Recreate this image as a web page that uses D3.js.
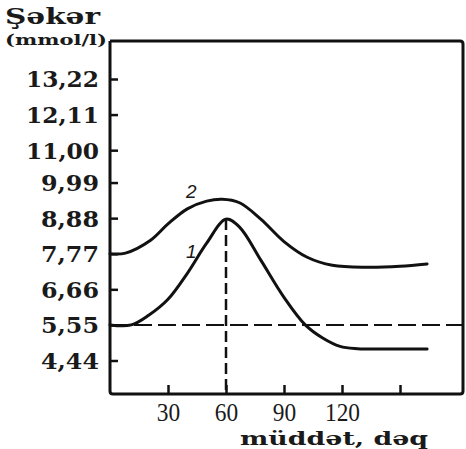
<!DOCTYPE html>
<html>
<head>
<meta charset="utf-8" />
<title>Şəkər</title>
<script src="https://cdn.jsdelivr.net/npm/d3@7"></script>
<style>
  body { margin: 0; background: #fff; }
  text { fill: #1a1a1a; }
</style>
</head>
<body>
<script>
// data
var yTicks = [4.44, 5.55, 6.66, 7.77, 8.88, 9.99, 11.00, 12.11, 13.22];
var yTickLabels = ['4,44', '5,55', '6,66', '7,77', '8,88', '9,99', '11,00', '12,11', '13,22'];
var xTicks = [30, 60, 90, 120, 150];
var xTickLabels = ['30', '60', '90', '120', ''];
var normLevel = 5.55;   // horizontal dashed line
var peakTime = 60;      // vertical dashed line
// curve 1
var curve1 = [[0,5.55],[11,5.55],[20,5.85],[30,6.35],[40,7.16],[50,8.10],[60,8.85],[67,8.6],[78,7.57],[90,6.41],[101,5.55],[110,5.14],[119,4.88],[128,4.81],[145,4.80],[164,4.80]];
// curve 2
var curve2 = [[0,7.77],[8,7.79],[21,8.19],[30,8.70],[40,9.17],[50,9.41],[58,9.47],[67,9.36],[78,8.85],[90,8.15],[102,7.66],[115,7.41],[133,7.35],[150,7.38],[164,7.45]];
var curveNames = ['1', '2'];
var curveLabelPos = [[42, 7.63], [42, 9.5]];

var width = 466, height = 449;
var frame = { left: 110, top: 41, right: 463, bottom: 394 };
var serif = '"DejaVu Serif", serif';

var svg = d3.select('body').append('svg').attr('width', width).attr('height', height);

var x = d3.scaleLinear().domain([0, 180]).range([110, 458]);
var y = d3.scaleLinear().domain([4.44, 13.22]).range([360.5, 79]);

// frame
svg.append('path')
  .attr('d', 'M' + frame.left + ',' + frame.top + 'L' + frame.left + ',' + (frame.bottom - 3) +
        'Q' + frame.left + ',' + frame.bottom + ' ' + (frame.left + 3) + ',' + frame.bottom +
        'L' + (frame.right - 3) + ',' + frame.bottom +
        'Q' + frame.right + ',' + frame.bottom + ' ' + frame.right + ',' + (frame.bottom - 3) +
        'L' + frame.right + ',' + (frame.top + 3) +
        'Q' + frame.right + ',' + frame.top + ' ' + (frame.right - 3) + ',' + frame.top +
        'L' + frame.left + ',' + frame.top)
  .attr('fill', 'none').attr('stroke', '#111').attr('stroke-width', 3);

// y axis (ticks inward)
var yAxis = d3.axisLeft(y).tickValues(yTicks).tickSize(-8).tickPadding(0)
  .tickFormat(function(d, i) { return yTickLabels[i]; });
var gy = svg.append('g').attr('transform', 'translate(' + frame.left + ',0)').call(yAxis);
gy.select('.domain').remove();
gy.selectAll('.tick line').attr('stroke', '#111').attr('stroke-width', 2.5);
gy.selectAll('.tick text')
  .attr('x', -11).attr('dy', '0.36em')
  .attr('text-anchor', 'end')
  .attr('font-family', serif)
  .attr('font-weight', 'bold').attr('font-size', 22)
  .attr('textLength', function(d, i) { var s = yTickLabels[i]; return (s.length - 1) * 15 + 13; })
  .attr('lengthAdjust', 'spacingAndGlyphs');

// x axis (ticks upward)
var xAxis = d3.axisBottom(x).tickValues(xTicks).tickSize(-9).tickPadding(0)
  .tickFormat(function(d, i) { return xTickLabels[i]; });
var gx = svg.append('g').attr('transform', 'translate(0,' + frame.bottom + ')').call(xAxis);
gx.select('.domain').remove();
gx.selectAll('.tick line').attr('stroke', '#111').attr('stroke-width', 2.5);
gx.selectAll('.tick text')
  .attr('y', 27).attr('dy', null)
  .attr('font-family', '"Liberation Serif", serif')
  .attr('font-size', 25)
  .attr('textLength', function(d, i) { return xTickLabels[i].length * 11.7; })
  .attr('lengthAdjust', 'spacingAndGlyphs');

// reference lines
svg.append('line')
  .attr('x1', frame.left).attr('x2', frame.right)
  .attr('y1', y(normLevel)).attr('y2', y(normLevel))
  .attr('stroke', '#111').attr('stroke-width', 2).attr('stroke-dasharray', '18,6');
svg.append('line')
  .attr('x1', x(peakTime)).attr('x2', x(peakTime))
  .attr('y1', y(8.85)).attr('y2', frame.bottom)
  .attr('stroke', '#111').attr('stroke-width', 2.5).attr('stroke-dasharray', '11,5');

// curves
var line = d3.line()
  .x(function(d) { return x(d[0]); })
  .y(function(d) { return y(d[1]); })
  .curve(d3.curveCatmullRom.alpha(0.5));

svg.selectAll('path.curve').data([curve1, curve2]).enter().append('path')
  .attr('class', 'curve')
  .attr('d', line)
  .attr('fill', 'none').attr('stroke', '#111').attr('stroke-width', 3)
  .attr('stroke-linecap', 'round');

svg.selectAll('text.cname').data(curveNames).enter().append('text')
  .attr('class', 'cname')
  .attr('x', function(d, i) { return x(curveLabelPos[i][0]); })
  .attr('y', function(d, i) { return y(curveLabelPos[i][1]); })
  .attr('text-anchor', 'middle')
  .attr('font-family', '"Liberation Sans", sans-serif')
  .attr('font-style', 'italic').attr('font-size', 19)
  .text(function(d) { return d; });

// titles
svg.append('text').attr('x', 5).attr('y', 24)
  .attr('font-family', serif).attr('font-weight', 'bold').attr('font-size', 22)
  .attr('textLength', 95).attr('lengthAdjust', 'spacingAndGlyphs')
  .text('Şəkər');
svg.append('text').attr('x', 5).attr('y', 45)
  .attr('font-family', serif).attr('font-weight', 'bold').attr('font-size', 15)
  .attr('textLength', 102).attr('lengthAdjust', 'spacingAndGlyphs')
  .text('(mmol/l)');
svg.append('text').attr('x', 240).attr('y', 445)
  .attr('font-family', serif).attr('font-weight', 'bold').attr('font-size', 18)
  .attr('textLength', 188).attr('lengthAdjust', 'spacingAndGlyphs')
  .text('müddət, dəq');
</script>
</body>
</html>
